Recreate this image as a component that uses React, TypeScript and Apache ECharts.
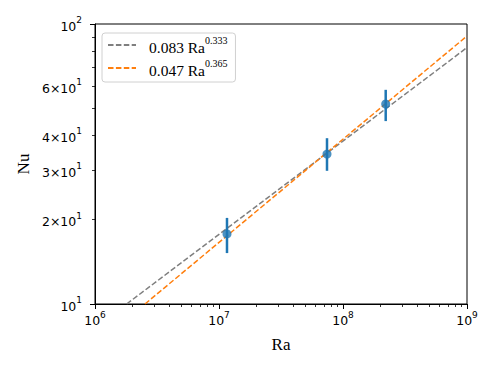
import React, { useEffect, useRef } from "react";
import * as echarts from "echarts";

const raPoints = [1.16e7, 7.43e7, 2.21e8];
const nuPoints = [17.8, 34.3, 51.8];
const nuLow = [15.2, 29.9, 45.0];
const nuHigh = [20.3, 39.1, 58.2];

const fitGray = [[1.8e6, 10], [1e9, 82.4]];
const fitOrange = [[2.53e6, 10], [1e9, 90.6]];

const xMinor = [2e6, 3e6, 4e6, 5e6, 6e6, 7e6, 8e6, 9e6, 2e7, 3e7, 4e7, 5e7, 6e7, 7e7, 8e7, 9e7, 2e8, 3e8, 4e8, 5e8, 6e8, 7e8, 8e8, 9e8];
const yMinor = [20, 30, 40, 50, 60, 70, 80, 90];
const yMinorLabels = [20, 30, 40, 60];

const SANS = "DejaVu Sans";
const SERIF = "Liberation Serif";

function fmtTick(v: number) {
  const e = Math.floor(Math.log10(v) + 1e-9);
  const m = Math.round(v / Math.pow(10, e));
  if (m === 1) return `{b|10}{s|${e}}`;
  return `{b|${m}×10}{s|${e}}`;
}

const tickRich = {
  b: { fontFamily: SANS, fontSize: 12.5, color: "#000", lineHeight: 17, verticalAlign: "bottom" },
  s: { fontFamily: SANS, fontSize: 9, color: "#000", lineHeight: 17, verticalAlign: "top" },
};

export default function App() {
  const ref = useRef<HTMLDivElement>(null);
  useEffect(() => {
    const chart = echarts.init(ref.current!, null, { renderer: "svg" });
    const errData = raPoints.map((x, i) => [x, nuLow[i], nuHigh[i]]);
    chart.setOption({
      animation: false,
      backgroundColor: "#fff",
      grid: { left: 95, right: 31, top: 24, bottom: 70, show: true, borderColor: "#000", borderWidth: 1, backgroundColor: "transparent" },
      legend: {
        left: 102,
        top: 33,
        orient: "vertical",
        itemWidth: 28,
        itemHeight: 10,
        itemGap: 3,
        padding: [2, 8, 4, 5],
        borderColor: "#d0d0d0",
        borderWidth: 1,
        borderRadius: 3,
        backgroundColor: "rgba(255,255,255,0.8)",
        itemStyle: { opacity: 0 },
        data: ["g", "o"],
        formatter: (name: string) =>
          name === "g" ? "{b|0.083 Ra}{s|0.333}" : "{b|0.047 Ra}{s|0.365}",
        textStyle: {
          rich: {
            b: { fontFamily: SERIF, fontSize: 15.5, color: "#000", lineHeight: 20, verticalAlign: "bottom", padding: [0, 0, 0, 8] },
            s: { fontFamily: SERIF, fontSize: 10, color: "#000", lineHeight: 20, verticalAlign: "top" },
          },
        },
      },
      xAxis: [
        {
          type: "log",
          logBase: 10,
          min: 1e6,
          max: 1e9,
          position: "bottom",
          name: "Ra",
          nameLocation: "middle",
          nameGap: 32,
          nameTextStyle: { fontFamily: SERIF, fontSize: 17, color: "#000" },
          axisLine: { show: true, lineStyle: { color: "#000", width: 1 } },
          axisTick: { show: true, length: 5, lineStyle: { color: "#000", width: 1 } },
          axisLabel: { formatter: (v: number) => fmtTick(v), margin: 6, rich: tickRich },
          splitLine: { show: false },
        },
        {
          type: "log",
          logBase: 10,
          min: 1e6,
          max: 1e9,
          position: "bottom",
          axisLine: { show: false },
          axisTick: { show: true, length: 3, customValues: xMinor, lineStyle: { color: "#000", width: 0.8 } },
          axisLabel: { show: false },
          splitLine: { show: false },
        },
      ],
      yAxis: [
        {
          type: "log",
          logBase: 10,
          min: 10,
          max: 100,
          position: "left",
          name: "Nu",
          nameLocation: "middle",
          nameGap: 63,
          nameTextStyle: { fontFamily: SERIF, fontSize: 17, color: "#000" },
          axisLine: { show: true, lineStyle: { color: "#000", width: 1 } },
          axisTick: { show: true, length: 5, lineStyle: { color: "#000", width: 1 } },
          axisLabel: { formatter: (v: number) => fmtTick(v), margin: 13, rich: tickRich },
          splitLine: { show: false },
        },
        {
          type: "log",
          logBase: 10,
          min: 10,
          max: 100,
          position: "left",
          axisLine: { show: false },
          axisTick: { show: true, length: 3, customValues: yMinor, lineStyle: { color: "#000", width: 0.8 } },
          axisLabel: { show: true, customValues: yMinorLabels, formatter: (v: number) => fmtTick(v), margin: 13, rich: tickRich },
          splitLine: { show: false },
        },
      ],
      series: [
        {
          name: "g",
          type: "line",
          data: fitGray,
          showSymbol: false,
          symbol: "none",
          lineStyle: { color: "#7f7f7f", width: 1.5, type: [5.5, 2.4] },
          itemStyle: { color: "#7f7f7f" },
          z: 2,
        },
        {
          name: "o",
          type: "line",
          data: fitOrange,
          showSymbol: false,
          symbol: "none",
          lineStyle: { color: "#ff7f0e", width: 1.5, type: [5.5, 2.4] },
          itemStyle: { color: "#ff7f0e" },
          z: 2,
        },
        {
          type: "custom",
          name: "err",
          data: errData,
          z: 3,
          renderItem: (params: any, api: any) => {
            const x = api.value(0);
            const p1 = api.coord([x, api.value(1)]);
            const p2 = api.coord([x, api.value(2)]);
            return {
              type: "line",
              shape: { x1: p1[0], y1: p1[1], x2: p2[0], y2: p2[1] },
              style: { stroke: "#1f77b4", lineWidth: 2.5 },
            };
          },
        },
        {
          type: "scatter",
          name: "pts",
          data: raPoints.map((x, i) => [x, nuPoints[i]]),
          symbol: "circle",
          symbolSize: 9,
          itemStyle: { color: "#1f77b4" },
          z: 4,
        },
      ],
    });
    return () => chart.dispose();
  }, []);
  return <div ref={ref} style={{ width: 498, height: 374, position: "absolute", left: 0, top: 0 }} />;
}
